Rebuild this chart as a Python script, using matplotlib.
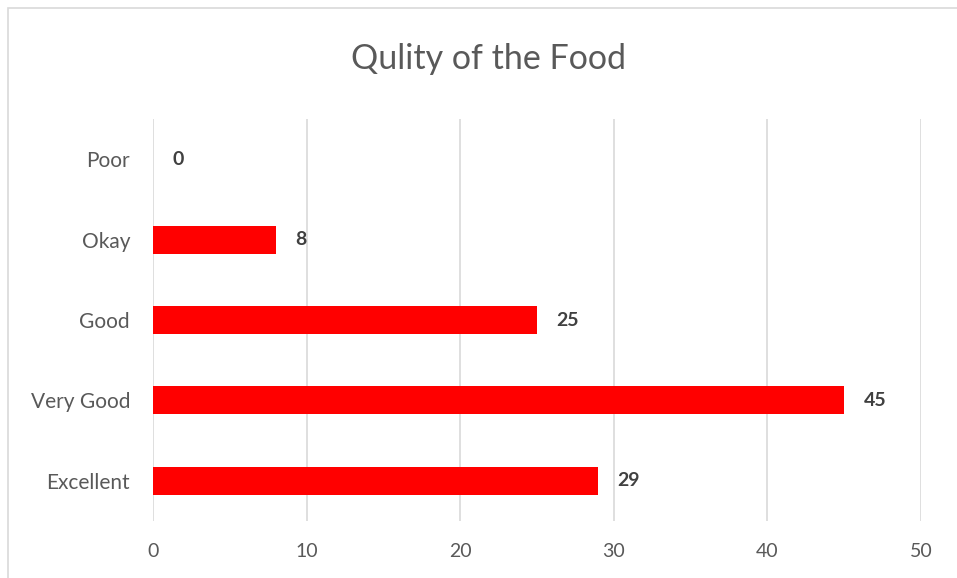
import matplotlib
matplotlib.use("Agg")
import matplotlib.pyplot as plt
from matplotlib.patches import Rectangle

categories = ["Excellent", "Very Good", "Good", "Okay", "Poor"]
values = [29, 45, 25, 8, 0]
xticks = [0, 10, 20, 30, 40, 50]
title = "Qulity of the Food"

plt.rcParams['font.family'] = ['Lato', 'DejaVu Sans']

fig = plt.figure(figsize=(9.57, 5.78), dpi=100)
fig.patches.append(Rectangle((8/957, -0.1), 1.2, 1 - 8/578 + 0.1, transform=fig.transFigure,
                             fill=False, edgecolor='#d9d9d9', linewidth=1.2))
ax = fig.add_axes([153/957, 1 - 521/578, (921 - 153)/957, (521 - 119)/578])

y = list(range(len(categories)))
ax.barh(y, values, height=0.35, color='#ff0000', zorder=3)
for yi, v in zip(y, values):
    ax.text(v + 1.25, yi, str(v), va='center', ha='left', fontsize=14,
            fontweight='bold', color='#404040')

ax.set_xlim(0, 50)
ax.set_ylim(-0.5, len(categories) - 0.5)
ax.set_xticks(xticks)
ax.set_xticklabels([str(t) for t in xticks])
ax.set_yticks(y)
ax.set_yticklabels(categories)
ax.tick_params(axis='x', length=0, labelsize=14, colors='#595959', pad=16)
ax.tick_params(axis='y', length=0, labelsize=15, colors='#595959', pad=16.5)
ax.grid(axis='x', color='#d9d9d9', linewidth=1.2, zorder=0)
for s in ax.spines.values():
    s.set_visible(False)

fig.text(488/957, 1 - 59/578, title, ha='center', va='center', fontsize=24.5, color='#595959')

fig.savefig("out.png", dpi=100)
